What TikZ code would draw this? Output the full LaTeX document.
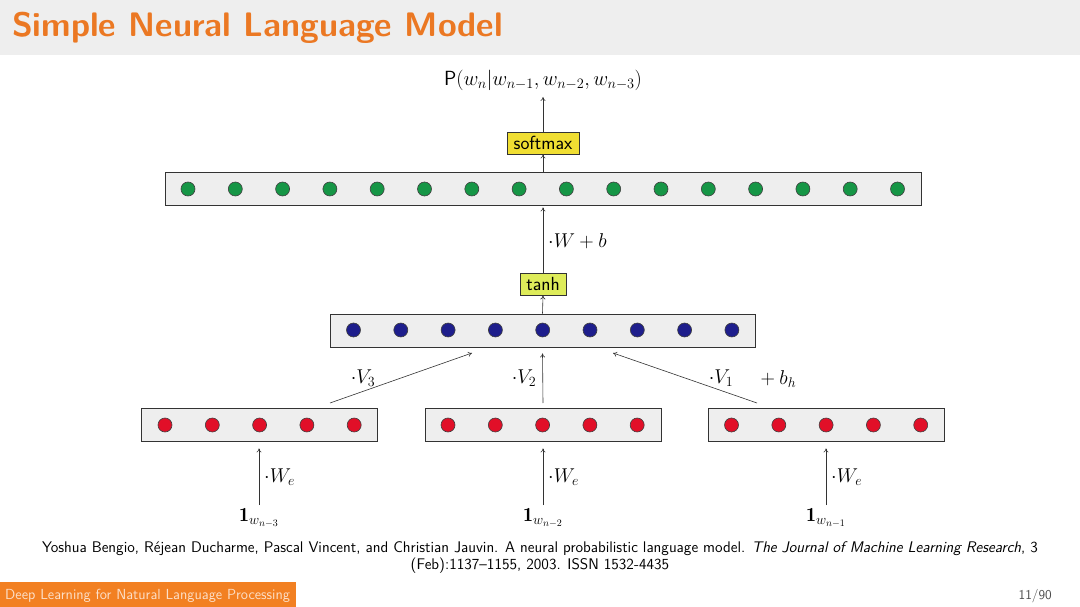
\RequirePackage{fix-cm}
\documentclass[tikz,border=0pt]{standalone}
\usepackage{amsmath}
\usepackage{fontspec}
\usetikzlibrary{arrows.meta,calc}
\definecolor{titleorange}{RGB}{235,120,35}
\definecolor{footorange}{RGB}{242,128,34}
\definecolor{barbg}{RGB}{238,238,238}
\definecolor{layerbg}{RGB}{238,238,238}
\definecolor{smyellow}{RGB}{240,222,50}
\definecolor{tanhyellow}{RGB}{222,236,90}
\definecolor{ngreen}{RGB}{22,150,70}
\definecolor{nblue}{RGB}{30,30,140}
\definecolor{nred}{RGB}{225,15,40}
\tikzset{
  layerbox/.style={draw=black!80, fill=layerbg, line width=0.9pt, minimum height=33pt, inner sep=0pt},
  neuron/.style={circle, draw=black!75, line width=0.6pt, minimum size=14pt, inner sep=0pt},
  funcbox/.style={draw=black!80, line width=0.9pt, inner sep=3pt, minimum height=22pt, font=\fontsize{19}{22}\selectfont\sffamily},
  conn/.style={-{To[length=4pt,width=5pt]}, draw=black!80, line width=0.6pt},
  mlabel/.style={inner sep=0pt, font=\fontsize{20}{23}\selectfont},
}
\begin{document}
\begin{tikzpicture}[x=1pt,y=-1pt]
\useasboundingbox (0,0) rectangle (1080,607);
\fill[white] (0,0) rectangle (1080,607);
% title bar
\fill[barbg] (0,0) rectangle (1080,55);
\node[anchor=base west, inner sep=0pt, text=titleorange, font=\fontsize{34}{40}\selectfont\sffamily\bfseries] (title) at (12,37) {Simple Neural Language Model};

% layers
\node[layerbox, minimum width=756pt] (green) at (543,188.5) {};
\foreach \i in {0,...,15} {
  \node[neuron, fill=ngreen] (g\i) at (188+47.3*\i,189) {};
}
\node[layerbox, minimum width=425pt] (blue) at (542.5,330.5) {};
\foreach \i in {0,...,8} {
  \node[neuron, fill=nblue] (b\i) at (353.5+47.3*\i,330) {};
}
\node[layerbox, minimum width=236pt] (redL) at (259,424.5) {};
\node[layerbox, minimum width=236pt] (redM) at (543,424.5) {};
\node[layerbox, minimum width=236pt] (redR) at (826,424.5) {};
\foreach \i in {0,...,4} {
  \node[neuron, fill=nred] (rl\i) at (165+47.3*\i,425) {};
  \node[neuron, fill=nred] (rm\i) at (448+47.3*\i,425) {};
  \node[neuron, fill=nred] (rr\i) at (731.5+47.3*\i,425) {};
}

% function boxes
\node[funcbox, fill=smyellow, minimum width=72pt] (softmax) at (543,143) {softmax};
\node[funcbox, fill=tanhyellow, minimum width=46pt] (tanh) at (543,284) {tanh};

% output label
\node[mlabel, font=\fontsize{20.5}{24}\selectfont] (out) at (543,80) {$\mathsf{P}(w_n|w_{n-1},w_{n-2},w_{n-3})$};

% inputs
\node[mlabel] (inL) at (259,518) {$\mathbf{1}_{w_{n-3}}$};
\node[mlabel] (inM) at (543,518) {$\mathbf{1}_{w_{n-2}}$};
\node[mlabel] (inR) at (826,518) {$\mathbf{1}_{w_{n-1}}$};

% connectors
\draw[conn] (softmax.north) -- (out.south |- 0,97);
\draw[conn] (green.north) -- (softmax.south);
\draw[conn] (tanh.north) -- ($(green.south)+(0,2)$);
\draw[conn] (blue.north) -- (tanh.south);

\coordinate (v3s) at (330,403);
\coordinate (v3e) at (472,353);
\coordinate (v1s) at (757,403);
\coordinate (v1e) at (613,353);
\draw[conn] (v3s) -- (v3e);
\draw[conn] (redM.north |- 0,403) -- ($(blue.south)+(0,6)$);
\draw[conn] (v1s) -- (v1e);

\draw[conn] (inL.north |- 0,505) -- ($(redL.south)+(0,7)$);
\draw[conn] (inM.north |- 0,505) -- ($(redM.south)+(0,7)$);
\draw[conn] (inR.north |- 0,505) -- ($(redR.south)+(0,7)$);

% labels
\node[mlabel, anchor=west] (lWb) at (548,241) {$\cdot W+b$};
\node[mlabel] (lV3) at (363,378) {$\cdot V_3$};
\node[mlabel] (lV2) at (524,378) {$\cdot V_2$};
\node[mlabel] (lV1) at (721,378) {$\cdot V_1$};
\node[mlabel, anchor=west] (lbh) at (756,379) {${}+b_h$};
\node[mlabel, anchor=west] (lWeL) at (264,477) {$\cdot W_e$};
\node[mlabel, anchor=west] (lWeM) at (548,477) {$\cdot W_e$};
\node[mlabel, anchor=west] (lWeR) at (831,477) {$\cdot W_e$};

% citation
\node[anchor=base, inner sep=0pt, font=\fontsize{15.4}{18}\selectfont\sffamily] (cite1) at (540,552) {Yoshua Bengio, Réjean Ducharme, Pascal Vincent, and Christian Jauvin. A neural probabilistic language model. \textit{The Journal of Machine Learning Research}, 3};
\node[anchor=base, inner sep=0pt, font=\fontsize{15.4}{18}\selectfont\sffamily] (cite2) at (540,569) {(Feb):1137--1155, 2003. ISSN 1532-4435};

% footer
\fill[footorange] (0,582) rectangle (296,607);
\node[anchor=base west, inner sep=0pt, text=white!75!footorange, font=\fontsize{14.6}{17}\selectfont\sffamily] (foot) at (5,599) {Deep Learning for Natural Language Processing};
\node[anchor=base east, inner sep=0pt, text=black!70, font=\fontsize{13.5}{16}\selectfont\sffamily] (page) at (1052,599) {11/90};
\end{tikzpicture}
\end{document}
